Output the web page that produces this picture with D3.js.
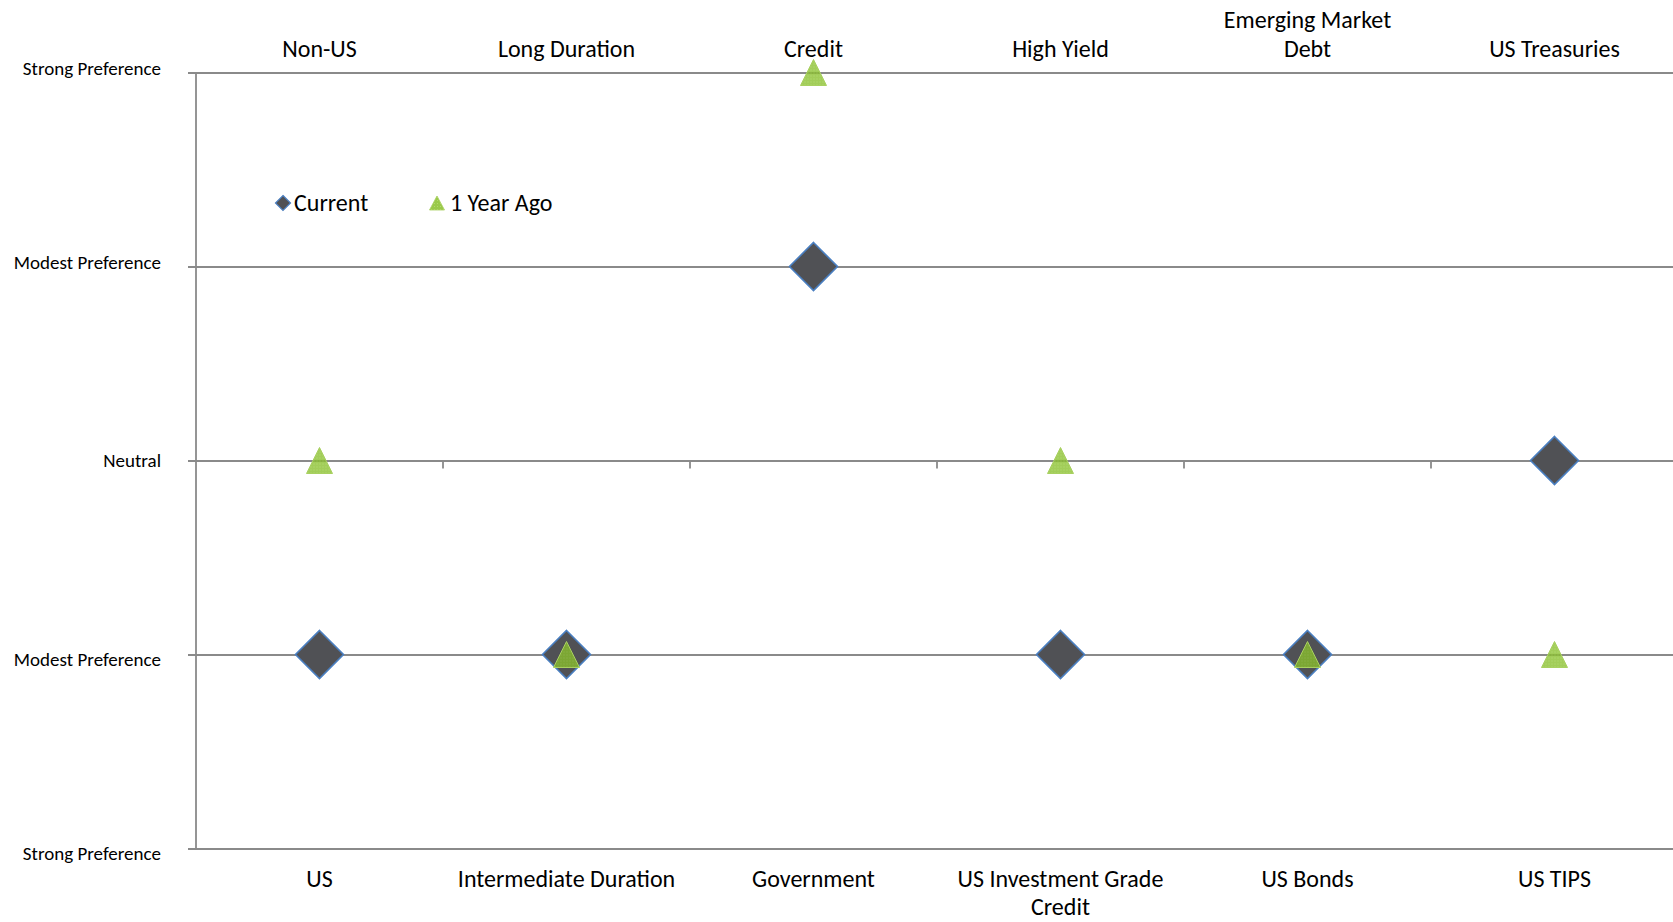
<!DOCTYPE html>
<html>
<head>
<meta charset="utf-8">
<script src="https://cdn.jsdelivr.net/npm/d3@7"></script>
<style>
  html, body { margin: 0; padding: 0; background: #fff; }
  svg { display: block; }
  text { font-family: Carlito, Calibri, Lato, "Open Sans", sans-serif; fill: #000; }
</style>
</head>
<body>
<svg id="chart" width="1673" height="922"></svg>
<script>
// Preference on the positive side (top axis) and negative side (bottom axis)
const topCategories = [["Non-US"], ["Long Duration"], ["Credit"], ["High Yield"], ["Emerging Market", "Debt"], ["US Treasuries"]];
const bottomCategories = [["US"], ["Intermediate Duration"], ["Government"], ["US Investment Grade", "Credit"], ["US Bonds"], ["US TIPS"]];

// Preference scores: +2 strong toward top, -2 strong toward bottom
const currentValues = [-1, -1, 1, -1, -1, 0];
const yearAgoValues = [0, -1, 2, 0, -1, -1];

const levelValues = [2, 1, 0, -1, -2];
const levelLabels = ["Strong Preference", "Modest Preference", "Neutral", "Modest Preference", "Strong Preference"];

const seriesNames = ["Current", "1 Year Ago"];

(function draw() {
  const svg = d3.select("#chart");
  const plotLeft = 196, plotRight = 1678, plotTop = 72.5, plotBottom = 848.5;

  const x = d3.scaleBand().domain(d3.range(topCategories.length)).range([plotLeft, plotRight]);
  const y = d3.scaleLinear().domain([-2, 2]).range([plotBottom, plotTop]);

  const gridColor = "#8a8a8a";

  // horizontal level lines with left ticks
  const yAxis = d3.axisLeft(y).tickValues(levelValues).tickSize(-(plotRight - plotLeft)).tickSizeOuter(0)
    .tickFormat((d) => levelLabels[levelValues.indexOf(d)]);
  const gy = svg.append("g").attr("transform", `translate(${plotLeft},0)`).call(yAxis);
  gy.select(".domain").remove();
  gy.selectAll(".tick line").attr("stroke", gridColor).attr("stroke-width", 1.8).attr("x1", -8);
  // labels on the upper half sit a little above their line, lower half a little below
  gy.selectAll(".tick text").attr("x", -35).attr("font-size", 19)
    .attr("y", (d) => (d > 0 ? -4 : d < 0 ? 5 : 0))
    .attr("dy", "0.32em")
    .attr("fill", "#000")
    .style("font-family", "Carlito, Calibri, Lato, 'Open Sans', sans-serif");

  // vertical axis line
  svg.append("line").attr("x1", plotLeft).attr("x2", plotLeft).attr("y1", y(2)).attr("y2", y(-2))
    .attr("stroke", gridColor).attr("stroke-width", 1.8);

  // category ticks along the neutral line
  const bounds = d3.range(1, topCategories.length).map((i) => x(i));
  svg.append("g").selectAll("line").data(bounds).join("line")
    .attr("x1", (d) => d).attr("x2", (d) => d)
    .attr("y1", y(0)).attr("y2", y(0) + 8)
    .attr("stroke", gridColor).attr("stroke-width", 1.8);

  const cx = (i) => x(i) + x.bandwidth() / 2;

  // top category labels (wrapped lines stack upward)
  const catSize = 24;
  const topG = svg.append("g");
  topCategories.forEach((lines, i) => {
    const t = topG.append("text").attr("x", cx(i)).attr("text-anchor", "middle").attr("font-size", catSize);
    lines.forEach((ln, k) => {
      t.append("tspan").attr("x", cx(i)).attr("y", 57 - (lines.length - 1 - k) * 29).text(ln);
    });
  });

  // bottom category labels (wrapped lines stack downward)
  const botG = svg.append("g");
  bottomCategories.forEach((lines, i) => {
    const t = botG.append("text").attr("x", cx(i)).attr("text-anchor", "middle").attr("font-size", catSize);
    lines.forEach((ln, k) => {
      t.append("tspan").attr("x", cx(i)).attr("y", 887 + k * 28).text(ln);
    });
  });

  // markers
  const diamond = (r) => `M0,${-r}L${r},0L0,${r}L${-r},0Z`;
  const triangle = (w, h) => `M0,${-h / 2}L${w / 2},${h / 2}L${-w / 2},${h / 2}Z`;

  const defs = svg.append("defs");
  const pat = defs.append("pattern").attr("id", "tex").attr("width", 3).attr("height", 3)
    .attr("patternUnits", "userSpaceOnUse");
  pat.append("rect").attr("width", 3).attr("height", 3).attr("fill", "#88bf2a");
  pat.append("rect").attr("width", 1).attr("height", 1).attr("fill", "#a3d152");

  svg.append("g").selectAll("path").data(currentValues).join("path")
    .attr("transform", (d, i) => `translate(${cx(i)},${y(d)})`)
    .attr("d", diamond(24))
    .attr("fill", "#505155").attr("stroke", "#4a7fc1").attr("stroke-width", 1.6);

  svg.append("g").selectAll("path").data(yearAgoValues).join("path")
    .attr("transform", (d, i) => `translate(${cx(i)},${y(d)})`)
    .attr("d", triangle(26, 26))
    .attr("fill", "url(#tex)").attr("fill-opacity", 0.78)
    .attr("stroke", "#a8d060").attr("stroke-width", 1);

  // legend
  const legend = svg.append("g");
  legend.append("path").attr("transform", "translate(283,203)").attr("d", diamond(7.5))
    .attr("fill", "#505155").attr("stroke", "#4a7fc1").attr("stroke-width", 1.2);
  legend.append("text").attr("x", 294).attr("y", 203).attr("dy", "0.35em").attr("font-size", catSize).text(seriesNames[0]);
  legend.append("path").attr("transform", "translate(437,203)").attr("d", triangle(15, 14))
    .attr("fill", "url(#tex)").attr("fill-opacity", 0.85).attr("stroke", "#a8d060").attr("stroke-width", 0.8);
  legend.append("text").attr("x", 450).attr("y", 203).attr("dy", "0.35em").attr("font-size", catSize).text(seriesNames[1]);
})();
</script>
</body>
</html>
